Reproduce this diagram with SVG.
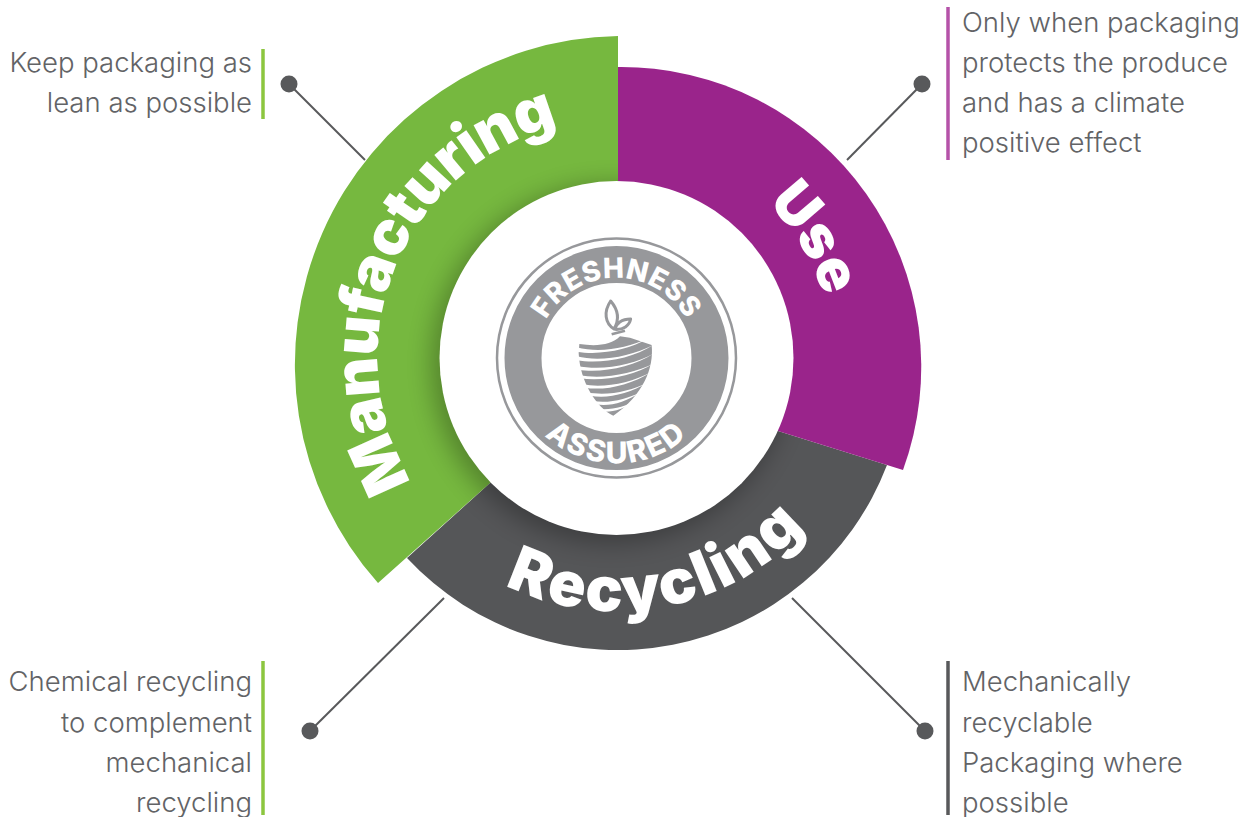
<svg xmlns="http://www.w3.org/2000/svg" width="1253" height="817" viewBox="0 0 1253 817">
<style>
.t{font-family:"Inter","Liberation Sans",sans-serif;font-weight:300;font-size:27.500px;fill:#626366}
.e{text-anchor:end}
.b{font-family:"Inter","Open Sans","Liberation Sans",sans-serif;font-weight:900;fill:#fff}
.l{font-family:"Inter","Liberation Sans",sans-serif;font-weight:800;fill:#fff}
.c{stroke:#58595b;stroke-width:2;fill:none}
.d{fill:#58595b}
.w{fill:#fff}
</style>
<defs>
<filter id="blur" x="-30%" y="-30%" width="160%" height="160%"><feGaussianBlur stdDeviation="12"/></filter>
<clipPath id="ring"><path d="M618 36A328.6 328.6 0 0 0 378 583L490 483L618 300Z"/><path d="M407 558A288 288 0 0 0 887 465L778 431L617 358Z"/></clipPath>
<path id="pman" d="M412 482A240 240 0 0 1 580 121"/>
<path id="puse" d="M767 203A216 216 0 0 1 833 358"/>
<path id="prec" d="M505 585A253 253 0 0 0 850 458"/>
<path id="pf" d="M536.500 358A80 80 0 0 1 696.500 358"/>
<path id="pa" d="M511 358A105.500 105.500 0 0 0 722 358"/>
</defs>
<g id="connectors">
<path class="c" d="M289 84L365 160"/><path class="c" d="M922 84L847 160"/><path class="c" d="M310 731L444 598"/><path class="c" d="M925 731L792 598"/>
<circle class="d" cx="289" cy="84" r="8.500"/><circle class="d" cx="922" cy="84" r="8.500"/><circle class="d" cx="310" cy="731" r="8.500"/><circle class="d" cx="925" cy="731" r="8.500"/>
</g>
<g id="recycling">
<path fill="#555658" d="M407 558A288 288 0 0 0 887 465L778 431L617 358L490 483Z"/>
</g>
<g id="manufacturing">
<path fill="#76b83f" d="M618 36A328.600 328.600 0 0 0 378 583L490 483L618 300Z"/>
</g>
<g id="use">
<path fill="#9a248b" d="M618 67A300 300 0 0 1 903 470L778 431L618 300Z"/>
</g>
<circle cx="611" cy="364" r="180" fill="#000" opacity=".28" filter="url(#blur)" clip-path="url(#ring)"/>
<g id="hub">
<circle cx="616.500" cy="358" r="177" fill="#fff"/>
</g>
<g id="labels-ring">
<text class="b" font-size="61" letter-spacing="-1"><textPath href="#pman">Manufacturing</textPath></text>
<text class="b" font-size="58"><textPath href="#puse">Use</textPath></text>
<text class="b" font-size="62" letter-spacing="2.500"><textPath href="#prec">Recycling</textPath></text>
</g>
<g id="logo">
<circle cx="616.500" cy="358" r="119.500" fill="#fff" stroke="#97989b" stroke-width="2.500"/>
<circle cx="616.500" cy="358" r="93.500" fill="none" stroke="#97989b" stroke-width="37"/>
<text class="l" font-size="28" letter-spacing=".5"><textPath href="#pf" startOffset="50%" text-anchor="middle">FRESHNESS</textPath></text>
<text class="l" font-size="30" letter-spacing="2"><textPath href="#pa" startOffset="50%" text-anchor="middle">ASSURED</textPath></text>
<g transform="translate(570 295) scale(.3333)">
<path fill="#97989b" d="M28 147C80 155 125 150 150 124L180 128L245 150C252 220 220 300 130 362C80 340 30 260 26 175Z"/>
<path class="w" d="M20 157C90 175 170 160 235 130C175 165 90 182 20 170ZM20 184C90 202 180 185 250 150C185 192 90 208 20 196ZM20 212C90 228 190 212 252 175C190 218 90 235 24 224ZM28 240C90 254 190 238 252 205C190 245 95 260 30 250ZM38 268C100 280 180 265 245 230C180 272 100 288 44 278ZM50 292C110 304 180 290 235 262C175 298 110 312 60 302ZM68 318C120 326 170 312 215 290C165 322 120 335 78 328ZM90 342C130 345 170 332 195 318C165 340 130 352 100 350Z"/>
<path d="M122 18C100 50 105 85 132 102C148 75 145 45 122 18ZM182 72C155 72 138 85 135 103C160 105 178 92 182 72Z" fill="none" stroke="#97989b" stroke-width="9" stroke-linejoin="round"/>
<path d="M125 118L165 107" fill="none" stroke="#97989b" stroke-width="8"/>
</g>
</g>
<g id="note-top-left">
<path stroke="#8cc63f" stroke-width="3.500" d="M263 49V119"/>
<text class="t e" x="252" y="71.500">Keep packaging as</text><text class="t e" x="252" y="111.500">lean as possible</text>
</g>
<g id="note-top-right">
<path stroke="#b552a8" stroke-width="3.500" d="M948 7V160"/>
<text class="t" x="962" y="31.500">Only when packaging</text><text class="t" x="962" y="71.500">protects the produce</text><text class="t" x="962" y="111.500">and has a climate</text><text class="t" x="962" y="151.500">positive effect</text>
</g>
<g id="note-bottom-left">
<path stroke="#8cc63f" stroke-width="3.500" d="M263 661V815"/>
<text class="t e" x="252" y="690.500">Chemical recycling</text><text class="t e" x="252" y="731.500">to complement</text><text class="t e" x="252" y="771.500">mechanical</text><text class="t e" x="252" y="811.500">recycling</text>
</g>
<g id="note-bottom-right">
<path stroke="#58595b" stroke-width="3.500" d="M948 661V815"/>
<text class="t" x="962" y="690.500">Mechanically</text><text class="t" x="962" y="731.500">recyclable</text><text class="t" x="962" y="771.500">Packaging where</text><text class="t" x="962" y="811.500">possible</text>
</g>
</svg>
